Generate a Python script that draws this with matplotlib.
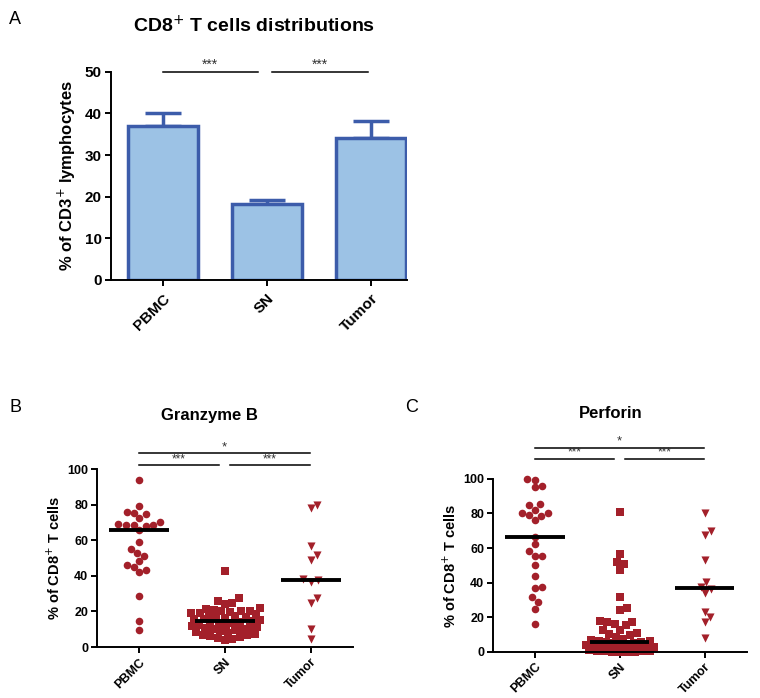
import numpy as np
import matplotlib
matplotlib.use("Agg")
import matplotlib.pyplot as plt

plt.rcParams['font.family'] = ['Liberation Sans', 'DejaVu Sans']

# ---- data ----
groups = ["PBMC", "SN", "Tumor"]

# panel A: mean and upper error (SEM)
cd8_mean = [37.0, 18.3, 34.2]
cd8_err = [3.1, 0.8, 4.0]

# panel B: Granzyme B
gzb_pbmc = [93.8, 79.4, 75.7, 75.5, 74.5, 72.3, 70.0, 68.9, 68.5, 68.5, 68.5, 68.0,
            65.7, 59.2, 55.0, 52.6, 51.3, 48.1, 46.2, 45.1, 43.4, 42.1, 28.6, 14.8, 9.8]
gzb_sn = [43.0, 27.3, 25.8, 25.0, 24.4,
          22.0, 21.5, 21.0, 20.5, 20.0, 20.0, 19.5, 19.0, 19.0, 18.5, 18.0, 17.5, 17.0,
          17.0, 16.5, 16.0, 15.5, 15.0, 14.8,
          14.2, 14.0, 13.5, 13.0, 12.5, 12.0, 12.0, 11.5, 11.0, 10.5, 10.0, 10.0, 9.5,
          9.0, 8.5, 8.0, 7.5, 7.0, 6.5, 6.0, 5.5, 5.0, 4.5, 4.0]
gzb_tumor = [80.0, 78.0, 57.0, 51.5, 49.0, 38.0, 37.5, 36.5, 27.5, 25.0, 10.0, 4.5]

# panel C: Perforin
prf_pbmc = [100.0, 99.4, 96.0, 95.0, 85.3, 84.6, 82.0, 80.1, 80.1, 79.2, 78.6, 76.3,
            66.6, 62.2, 58.3, 55.6, 55.4, 50.2, 44.0, 37.6, 36.7, 31.9, 29.0, 24.9, 16.2]
prf_sn = [81.0, 56.6, 52.0, 50.8, 47.3, 32.0, 25.5, 24.5, 18.0, 17.5, 17.1, 16.0,
          15.4, 12.9, 12.7, 11.2, 10.2, 9.7, 8.8, 7.7, 7.0, 6.5,
          6.2, 6.0, 5.8, 5.4, 5.0, 4.6, 4.2, 3.8, 3.4, 3.0, 2.7, 2.4, 2.1, 1.8, 1.5,
          1.3, 1.1, 0.9, 0.7, 0.5, 0.4, 0.3, 0.2, 0.1, 0.0, 0.0]
prf_tumor = [80.1, 70.0, 67.6, 53.0, 40.3, 37.5, 36.1, 33.8, 23.2, 20.3, 17.4, 8.1]

RED = '#a3202a'
BAR_FILL = '#9cc2e5'
BAR_EDGE = '#3c5caa'
SIG = '#333333'


def swarm_x(ax, xc, values, d_px, max_units=0.4):
    # simple beeswarm in pixel space, points may overlap once the row is full
    pts = ax.transData.transform(np.column_stack([np.full(len(values), xc), values]))
    ys = pts[:, 1]
    ppu = ax.transData.transform((1, 0))[0] - ax.transData.transform((0, 0))[0]
    max_px = max_units * ppu
    order = np.argsort(ys)
    placed = []
    offs = np.zeros(len(values))
    for i in order:
        y = ys[i]
        cands = [0.0]
        for px, py in placed:
            dy = abs(py - y)
            if dy < d_px:
                dx = np.sqrt(d_px ** 2 - dy ** 2)
                cands += [px + dx, px - dx]
        cands = [c for c in cands if abs(c) <= max_px]
        cands.sort(key=abs)
        found = False
        for c in cands:
            if all((c - px) ** 2 + (y - py) ** 2 >= d_px ** 2 - 1e-6 for px, py in placed):
                offs[i] = c
                found = True
                break
        if not found:
            grid = np.arange(-max_px, max_px + 0.5, 1.0)
            best = max(grid, key=lambda c: (min((c - px) ** 2 + (y - py) ** 2
                                                for px, py in placed), -abs(c)))
            offs[i] = best
        placed.append((offs[i], y))
    return xc + offs / ppu


def style_axes(ax, fs):
    for s in ['top', 'right']:
        ax.spines[s].set_visible(False)
    for s in ['left', 'bottom']:
        ax.spines[s].set_linewidth(1.4)
    ax.tick_params(width=1.4, length=4.5, labelsize=fs, pad=2)
    for lab in ax.get_yticklabels() + ax.get_xticklabels():
        lab.set_fontweight('bold')


def sig_line(ax, x0, x1, y, txt, fs=9):
    ax.plot([x0, x1], [y, y], color='black', lw=1.1, clip_on=False)
    ax.text((x0 + x1) / 2, y, txt, ha='center', va='bottom', fontsize=fs,
            color=SIG, clip_on=False)


fig = plt.figure(figsize=(7.6, 6.98), dpi=100)

# ---------------- panel A ----------------
axA = fig.add_axes([0.146, 0.599, 0.389, 0.298])
x = np.arange(len(groups))
axA.bar(x, cd8_mean, width=0.67, color=BAR_FILL, edgecolor=BAR_EDGE, linewidth=2.5, zorder=2)
axA.errorbar(x, cd8_mean, yerr=[np.zeros(3), cd8_err], fmt='none', ecolor=BAR_EDGE,
             elinewidth=2.5, capsize=13, capthick=2.5, zorder=1)
axA.set_xlim(-0.5, 2.34)
axA.set_ylim(0, 50)
axA.set_yticks([0, 10, 20, 30, 40, 50])
axA.set_xticks(x)
axA.set_xticklabels(groups, rotation=45, ha='right', rotation_mode='anchor')
style_axes(axA, 11)
axA.tick_params(axis='x', pad=4)
axA.set_ylabel('% of CD3$^{+}$ lymphocytes', fontsize=12, fontweight='bold', labelpad=5)
fig.text(0.334, 0.963, 'CD8$^{+}$ T cells distributions', fontsize=14,
         fontweight='bold', ha='center', va='center')
sig_line(axA, 0, 0.91, 50, '***', 10)
sig_line(axA, 1.05, 1.97, 50, '***', 10)
fig.text(0.012, 0.965, 'A', fontsize=13)


def scatter_panel(rect, data, title, title_xy, sig_y, label, lab_xy):
    ax = fig.add_axes(rect)
    ax.set_xlim(-0.49, 2.5)
    ax.set_ylim(0, 100)
    ax.set_yticks([0, 20, 40, 60, 80, 100])
    ax.set_xticks(range(3))
    ax.set_xticklabels(groups, rotation=45, ha='right', rotation_mode='anchor')
    markers = ['o', 's', 'v']
    sizes = [30, 30, 34]
    for i, vals in enumerate(data):
        xs = swarm_x(ax, i, vals, 7.6)
        ax.scatter(xs, vals, marker=markers[i], s=sizes[i], color=RED,
                   linewidths=0, zorder=2, clip_on=False)
        med = np.median(vals)
        ax.plot([i - 0.35, i + 0.35], [med, med], color='black', lw=2.8, zorder=3,
                solid_capstyle='butt')
    style_axes(ax, 9)
    ax.set_ylabel('% of CD8$^{+}$ T cells', fontsize=10.5, fontweight='bold', labelpad=3)
    fig.text(title_xy[0], title_xy[1], title, fontsize=12, fontweight='bold',
             ha='center', va='center')
    sig_line(ax, 0, 0.93, sig_y[1], '***', 8.5)
    sig_line(ax, 1.06, 1.99, sig_y[1], '***', 8.5)
    sig_line(ax, 0, 1.99, sig_y[0], '*', 9.5)
    fig.text(lab_xy[0], lab_xy[1], label, fontsize=13)
    return ax


scatter_panel([0.128, 0.073, 0.337, 0.255], [gzb_pbmc, gzb_sn, gzb_tumor],
              'Granzyme B', (0.276, 0.405), (109, 102), 'B', (0.012, 0.41))
scatter_panel([0.649, 0.066, 0.334, 0.248], [prf_pbmc, prf_sn, prf_tumor],
              'Perforin', (0.804, 0.408), (118, 111.5), 'C', (0.533, 0.41))

fig.savefig('out.png', dpi=100)
